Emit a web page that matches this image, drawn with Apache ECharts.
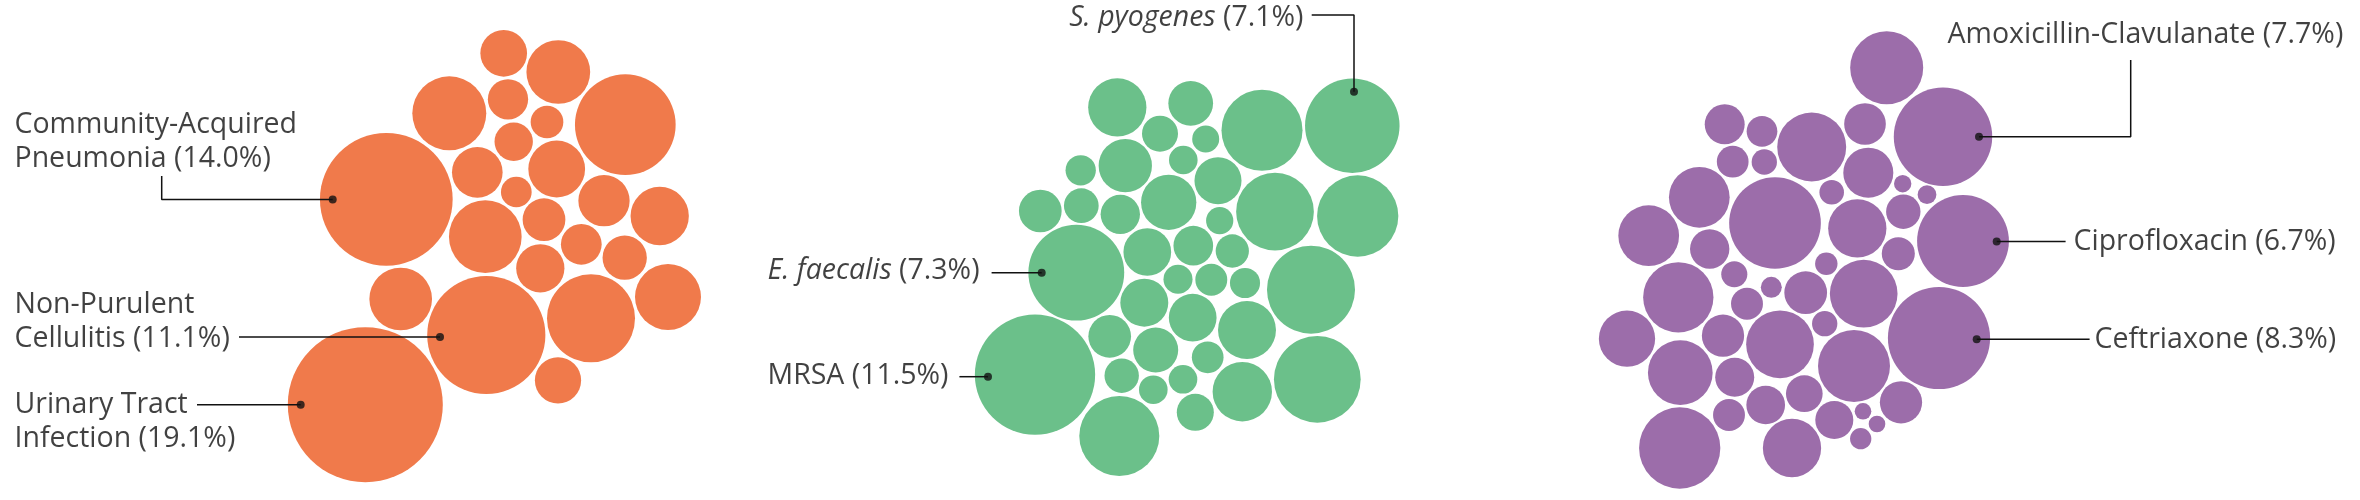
<!DOCTYPE html>
<html>
<head>
<meta charset="utf-8">
<script src="https://cdn.jsdelivr.net/npm/echarts@6/dist/echarts.min.js"></script>
<style>
html, body { margin: 0; background: #ffffff; }
#chart { width: 2360px; height: 500px; }
</style>
</head>
<body>
<div id="chart"></div>
<script>
// bubble values = share of cases in percent (bubble area is proportional)
var infectionShare = [1.73, 3.23, 4.35, 1.29, 8.06, 0.85, 1.17, 14.0, 2.04, 2.56, 0.75, 2.09,
  2.70, 4.20, 1.45, 1.32, 1.56, 1.85, 3.46, 3.12, 11.1, 6.16, 1.70, 19.1]
var organismShare = [2.70, 1.59, 5.22, 7.1, 1.03, 0.58, 0.65, 2.26, 0.73, 1.76, 4.80, 5.25,
  1.45, 0.96, 1.23, 2.43, 0.59, 7.3, 1.81, 1.25, 0.88, 6.16, 0.67, 0.81, 0.72, 1.83,
  1.81, 2.67, 11.5, 1.45, 1.61, 0.80, 0.94, 0.65, 0.65, 2.80, 5.98, 5.09, 1.09]
var antibioticShare = [4.24, 7.7, 1.27, 0.75, 3.78, 1.38, 0.80, 0.51, 1.99, 0.48, 0.24, 0.28,
  2.93, 6.68, 2.70, 0.94, 6.7, 2.93, 1.23, 0.87, 0.40, 3.93, 0.54, 0.35, 0.81, 1.45,
  3.64, 8.3, 2.52, 1.42, 3.64, 0.51, 3.33, 1.21, 4.12, 1.19, 1.07, 1.42, 0.81, 1.15,
  0.22, 0.22, 0.36, 5.25, 2.70]

// named bubbles (index into the share arrays)
var infectionNames = [[7, 'Community-Acquired', 'Pneumonia'], [20, 'Non-Purulent', 'Cellulitis'], [23, 'Urinary Tract', 'Infection']]
var organismNames = [[3, 'S. pyogenes'], [17, 'E. faecalis'], [28, 'MRSA']]
var antibioticNames = [[1, 'Amoxicillin-Clavulanate'], [16, 'Ciprofloxacin'], [27, 'Ceftriaxone']]

// packed layout of the bubbles (centres, in plot units)
var infectionPos = [[503.7, 53.3], [558.3, 72], [449.3, 113.3], [508, 99.3], [625.3, 124.7], [547, 122],
  [513.7, 141.7], [386.3, 199.3], [477.3, 172.3], [556.7, 169], [516.3, 192], [604, 200.7],
  [659.7, 216], [485.3, 236.7], [544, 219.7], [581.3, 244.3], [624.7, 257.7], [540.3, 268.3],
  [668, 297], [400.7, 299], [486.3, 335], [591, 318.3], [558, 380.3], [365.3, 404.7]]
var organismPos = [[1117.3, 107.3], [1190.7, 103.3], [1262, 130.3], [1352.3, 125.7], [1160, 133.7],
  [1205.7, 139], [1183.3, 160], [1125.3, 165.7], [1080.7, 170.3], [1218, 180.7], [1275, 211.7],
  [1357.7, 216], [1040.3, 211], [1081.3, 205.7], [1120.3, 214.3], [1168.7, 202.3], [1219.7, 220.7],
  [1076.3, 272.7], [1147.3, 252], [1193.3, 245.7], [1232.3, 251], [1311, 289.7], [1178, 279.3],
  [1211.3, 279.7], [1245, 283], [1144.3, 302.7], [1192.7, 317.7], [1247, 330], [1035, 374.7],
  [1109.7, 336.3], [1155.7, 350], [1207.7, 357.3], [1121.7, 375.7], [1153.3, 389.7], [1183, 379.3],
  [1242.3, 391.7], [1317.3, 379.3], [1119.3, 436], [1195.3, 412.3]]
var antibioticPos = [[1886.7, 67.7], [1943, 136.7], [1724.7, 124.3], [1762, 131.3], [1811.7, 147],
  [1865, 124], [1732.7, 161.7], [1764.3, 162], [1868.3, 172.7], [1831.7, 192.3], [1902.7, 183.7],
  [1927, 194.7], [1699.3, 197.3], [1775, 223], [1857.3, 228.3], [1903.3, 211.7], [1963, 241],
  [1648.7, 235.7], [1709.7, 249], [1898.3, 253.7], [1826.3, 263.7], [1678.3, 297.3], [1734.3, 274.3],
  [1771.3, 287.3], [1747, 303.7], [1805.7, 292.7], [1863.7, 293.7], [1939, 338], [1627, 338.7],
  [1723, 335.7], [1780, 344.3], [1824.7, 323.7], [1680.3, 372.7], [1734.7, 377.3], [1854, 366],
  [1765.7, 405], [1804.3, 393.7], [1901, 402.3], [1729, 415], [1834.3, 420], [1863, 411.3],
  [1877, 424], [1860.7, 438.7], [1679.7, 448], [1792, 448]]

// callout layout: leader path, dot, text anchor, side
var infectionCallouts = [
  {path: [[161.7, 176], [161.7, 199.5], [332.7, 199.5]], dot: [332.7, 199.5], text: [14, 142], side: 'right'},
  {path: [[239, 337], [440, 337]], dot: [440, 337], text: [14, 322], side: 'right'},
  {path: [[197, 404.7], [300.7, 404.7]], dot: [300.7, 404.7], text: [14, 422], side: 'right'}
]
var organismCallouts = [
  {path: [[1311.7, 15], [1354, 15], [1354, 91.7]], dot: [1354, 91.7], text: [1304, 18], side: 'left'},
  {path: [[991.6, 272.7], [1041.7, 272.7]], dot: [1041.7, 272.7], text: [767, 271], side: 'right'},
  {path: [[959.4, 376.7], [988, 376.7]], dot: [988, 376.7], text: [767, 376], side: 'right'}
]
var antibioticCallouts = [
  {path: [[2130.7, 60], [2130.7, 136.7], [1979, 136.7]], dot: [1979, 136.7], text: [1947, 34.5], side: 'right'},
  {path: [[1996.7, 241.5], [2065.6, 241.5]], dot: [1996.7, 241.5], text: [2073, 242], side: 'right'},
  {path: [[1976.7, 339.3], [2089.6, 339.3]], dot: [1976.7, 339.3], text: [2094, 340], side: 'right'}
]

var SIZE_K = 35.47 // diameter per sqrt(percent)
var INK = '#111111'

var chart = echarts.init(document.getElementById('chart'))
var series = []

function pct (v) { return '(' + v.toFixed(1) + '%)' }

function addGroup (share, pos, names, callouts, color, italic) {
  series.push({
    type: 'scatter',
    silent: true,
    symbol: 'circle',
    symbolSize: function (val) { return SIZE_K * Math.sqrt(val[2]) },
    itemStyle: {color: color, opacity: 1},
    data: pos.map(function (p, i) { return [p[0], p[1], share[i]] }),
    z: 2
  })
  callouts.forEach(function (c, k) {
    var nm = names[k]
    var v = share[nm[0]]
    var txt
    if (nm.length === 3) {
      txt = '{n|' + nm[1] + '}\n{n|' + nm[2] + ' ' + pct(v) + '}'
    } else if (italic && nm[1] !== 'MRSA') {
      txt = '{i|' + nm[1] + '}{n| ' + pct(v) + '}'
    } else {
      txt = '{n|' + nm[1] + ' ' + pct(v) + '}'
    }
    series.push({
      type: 'line',
      silent: true,
      symbol: 'none',
      lineStyle: {color: INK, width: 1.5},
      data: c.path,
      z: 3
    })
    series.push({
      type: 'scatter',
      silent: true,
      symbolSize: 8,
      itemStyle: {color: INK},
      data: [c.dot],
      z: 4
    })
    series.push({
      type: 'scatter',
      silent: true,
      symbolSize: 1,
      itemStyle: {color: 'rgba(0,0,0,0)'},
      data: [c.text],
      label: {
        show: true,
        position: c.side,
        distance: 0,
        align: c.side === 'left' ? 'right' : 'left',
        verticalAlign: 'middle',
        formatter: txt,
        rich: {
          n: {fontFamily: 'Open Sans', fontSize: 28.5, lineHeight: 34, color: INK},
          i: {fontFamily: 'Open Sans', fontSize: 28.5, lineHeight: 34, color: INK, fontStyle: 'italic'}
        }
      },
      z: 5
    })
  })
}

addGroup(infectionShare, infectionPos, infectionNames, infectionCallouts, '#F07A4B', false)
addGroup(organismShare, organismPos, organismNames, organismCallouts, '#6BC08A', true)
addGroup(antibioticShare, antibioticPos, antibioticNames, antibioticCallouts, '#9C6DAA', false)

chart.setOption({
  animation: false,
  grid: {left: 0, right: 0, top: 0, bottom: 0},
  xAxis: {type: 'value', min: 0, max: 2360, show: false},
  yAxis: {type: 'value', min: 0, max: 500, inverse: true, show: false},
  series: series
})
</script>
</body>
</html>
